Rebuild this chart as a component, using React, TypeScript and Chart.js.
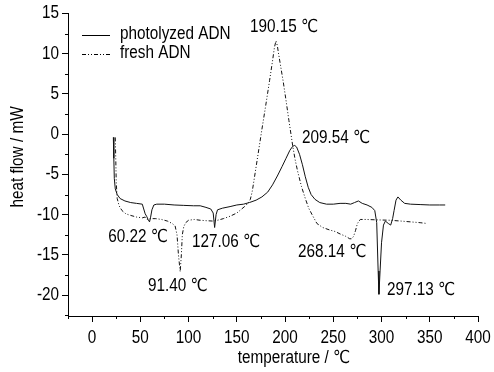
import React, { useEffect, useRef } from "react";
import Chart from "chart.js/auto";

// ---- data ----
const photoT = [22, 22.5, 23, 24, 26, 29, 34, 40, 46, 52, 53.5, 55, 56.5, 58, 59.5, 60.5, 62, 64, 67, 75, 85, 95, 105, 112, 118, 123, 125.5, 127, 128.5, 130, 135, 143, 150, 157, 163, 170, 176, 182, 187, 192, 197, 201, 205, 208, 210, 212, 215, 218, 221, 224, 227, 231, 236, 243, 250, 257, 263, 268, 272, 276, 280, 285, 290, 293, 295, 296.5, 297.3, 298.5, 300, 302, 304, 307, 309.5, 311.5, 313, 315, 317, 320, 324, 330, 340, 350, 360, 366];
const photoH = [-0.4, -3, -5.5, -6.8, -7.5, -8.0, -8.3, -8.5, -8.6, -8.7, -9.3, -9.9, -10.2, -10.6, -10.9, -10.4, -9.4, -8.8, -8.7, -8.7, -8.8, -8.85, -8.9, -8.9, -9.1, -9.3, -9.8, -11.6, -10.0, -9.4, -9.2, -9.0, -8.8, -8.7, -8.5, -8.2, -7.8, -7.2, -6.3, -5.2, -4.0, -3.0, -2.0, -1.5, -1.4, -1.6, -2.5, -3.8, -5.3, -6.6, -7.5, -8.1, -8.5, -8.7, -8.7, -8.6, -8.6, -8.7, -8.5, -8.3, -8.6, -8.8, -9.1, -9.5, -11, -17, -19.9, -17, -13.5, -11.3, -10.8, -11.1, -11.3, -10.5, -9.5, -8.2, -7.8, -8.2, -8.6, -8.7, -8.75, -8.8, -8.8, -8.8];

const freshT = [24, 24.5, 25, 26, 28, 31, 35, 40, 46, 52, 55, 57, 60, 66, 72, 78, 83, 86, 88, 89.5, 91.3, 92.5, 93.5, 95, 97, 100, 106, 112, 118, 125, 130, 136, 143, 150, 155, 159, 162, 164, 166, 168.5, 172, 176, 180, 184, 187, 189, 190.6, 192, 193, 195.5, 198, 201, 204, 208, 210.5, 213, 217, 221, 224.5, 228, 233, 239, 246, 252, 257, 263, 267, 269, 271, 273, 275, 278, 284, 295, 309, 320, 330, 340, 347];
const freshH = [-0.4, -3, -6, -8, -8.9, -9.5, -9.9, -10.1, -10.3, -10.4, -10.3, -10.6, -10.5, -10.5, -10.6, -10.8, -11.1, -11.4, -12.5, -15, -17.1, -15, -12.5, -11.5, -11.0, -10.7, -10.6, -10.7, -10.75, -10.8, -10.7, -10.5, -10.2, -9.8, -9.3, -8.9, -8.5, -8.1, -7.1, -5.2, -2.5, 0.6, 3.6, 6.7, 9.1, 10.8, 11.6, 11.0, 10.2, 8.4, 6.6, 4.2, 1.7, -1.5, -3.2, -4.6, -6.5, -8.0, -9.2, -10.0, -11.1, -11.6, -11.9, -12.1, -12.4, -12.7, -13.0, -13.0, -12.7, -12.0, -11.1, -10.6, -10.6, -10.65, -10.7, -10.8, -10.9, -11.0, -11.1];

const seriesNames = ["photolyzed ADN", "fresh ADN"];

const xTicks = [0, 50, 100, 150, 200, 250, 300, 350, 400];
const xMinorTicks = [-25, 25, 75, 125, 175, 225, 275, 325, 375];
const yTicks = [-20, -15, -10, -5, 0, 5, 10, 15];
const yMinorTicks = [-22.5, -17.5, -12.5, -7.5, -2.5, 2.5, 7.5, 12.5];

const noteText = ["190.15 ℃", "209.54 ℃", "60.22 ℃", "91.40 ℃", "127.06 ℃", "268.14 ℃", "297.13 ℃"];
const noteT = [163.7, 217.6, 16.6, 58, 103.6, 213.5, 305.7];
const noteH = [13.3, -0.5, -12.8, -18.9, -13.4, -14.7, -19.4];

const xTitle = "temperature / ℃";
const yTitle = "heat flow / mW";

const FONT_FAMILY = "'Liberation Sans Narrow', 'Arial Narrow', 'Liberation Sans', Arial, 'DejaVu Sans', sans-serif";
const FONT_SIZE = 18;
const NARROW = 0.85;

const DASH = [4, 2, 1, 2, 1, 2];

function narrowText(ctx: CanvasRenderingContext2D, text: string, x: number, y: number, align: CanvasTextAlign) {
  ctx.save();
  ctx.translate(x, y);
  ctx.scale(NARROW, 1);
  ctx.textAlign = align;
  ctx.fillText(text, 0, 0);
  ctx.restore();
}

const extras = {
  id: "extras",
  afterDraw(chart: any) {
    const ctx: CanvasRenderingContext2D = chart.ctx;
    const xs = chart.scales.x;
    const ys = chart.scales.y;
    const area = chart.chartArea;
    ctx.save();
    ctx.strokeStyle = "#000";
    ctx.lineWidth = 1;
    // minor ticks
    ctx.beginPath();
    xMinorTicks.forEach((v) => {
      const px = Math.round(xs.getPixelForValue(v)) + 0.5;
      ctx.moveTo(px, area.bottom);
      ctx.lineTo(px, area.bottom + 3);
    });
    yMinorTicks.forEach((v) => {
      const py = Math.round(ys.getPixelForValue(v)) + 0.5;
      ctx.moveTo(area.left, py);
      ctx.lineTo(area.left - 3, py);
    });
    ctx.stroke();

    ctx.fillStyle = "#000";
    ctx.font = `${FONT_SIZE}px ${FONT_FAMILY}`;
    ctx.textBaseline = "middle";

    // tick labels (from the library's scales)
    xs.ticks.forEach((t: any) => {
      narrowText(ctx, String(t.value), xs.getPixelForValue(t.value), area.bottom + 22, "center");
    });
    ys.ticks.forEach((t: any) => {
      narrowText(ctx, String(t.value), area.left - 9, ys.getPixelForValue(t.value), "right");
    });

    // annotations
    noteText.forEach((t, i) => {
      narrowText(ctx, t, xs.getPixelForValue(noteT[i]), ys.getPixelForValue(noteH[i]), "left");
    });

    // legend
    const lx = area.left + 14;
    const ly = area.top + 21;
    const gap = 19;
    chart.data.datasets.forEach((ds: any, i: number) => {
      const y = Math.round(ly + i * gap) + 0.5;
      ctx.beginPath();
      ctx.setLineDash(ds.borderDash || []);
      ctx.moveTo(lx, y);
      ctx.lineTo(lx + 28, y);
      ctx.stroke();
      ctx.setLineDash([]);
      narrowText(ctx, ds.label, lx + 38, ly + i * gap, "left");
    });

    // axis titles
    narrowText(ctx, xTitle, (area.left + area.right) / 2 + 21, 358, "center");
    ctx.save();
    ctx.translate(18, 157);
    ctx.rotate(-Math.PI / 2);
    narrowText(ctx, yTitle, 0, 0, "center");
    ctx.restore();
    ctx.restore();
  },
};

export default function App() {
  const ref = useRef<HTMLCanvasElement | null>(null);
  useEffect(() => {
    if (!ref.current) return;
    const chart = new Chart(ref.current, {
      type: "line",
      data: {
        datasets: [
          {
            label: seriesNames[0],
            data: photoT.map((t, i) => ({ x: t, y: photoH[i] })),
            borderColor: "#111",
            borderWidth: 1,
            pointRadius: 0,
            tension: 0,
            fill: false,
          },
          {
            label: seriesNames[1],
            data: freshT.map((t, i) => ({ x: t, y: freshH[i] })),
            borderColor: "#111",
            borderWidth: 1,
            borderDash: DASH,
            pointRadius: 0,
            tension: 0,
            fill: false,
          },
        ],
      },
      options: {
        responsive: false,
        animation: false,
        devicePixelRatio: 1,
        layout: { padding: { left: 0, right: 16, top: 13.5, bottom: 0 } },
        plugins: { legend: { display: false }, tooltip: { enabled: false } },
        scales: {
          x: {
            type: "linear",
            min: -25,
            max: 400,
            afterBuildTicks: (s: any) => {
              s.ticks = xTicks.map((v) => ({ value: v }));
            },
            afterFit: (s: any) => {
              s.height = 56;
            },
            grid: { drawOnChartArea: false, drawTicks: true, tickLength: 6, color: "#000", lineWidth: 1 },
            border: { display: true, color: "#000", width: 1 },
            ticks: { display: false },
          },
          y: {
            type: "linear",
            min: -22.6,
            max: 15,
            afterBuildTicks: (s: any) => {
              s.ticks = yTicks.map((v) => ({ value: v }));
            },
            afterFit: (s: any) => {
              s.width = 68;
            },
            grid: { drawOnChartArea: false, drawTicks: true, tickLength: 6, color: "#000", lineWidth: 1 },
            border: { display: true, color: "#000", width: 1 },
            ticks: { display: false },
          },
        },
      },
      plugins: [extras],
    });
    return () => chart.destroy();
  }, []);
  return (
    <div style={{ position: "absolute", left: 0, top: 0, width: 494, height: 372, background: "#fff" }}>
      <canvas ref={ref} width={494} height={372} style={{ width: 494, height: 372 }} />
    </div>
  );
}
